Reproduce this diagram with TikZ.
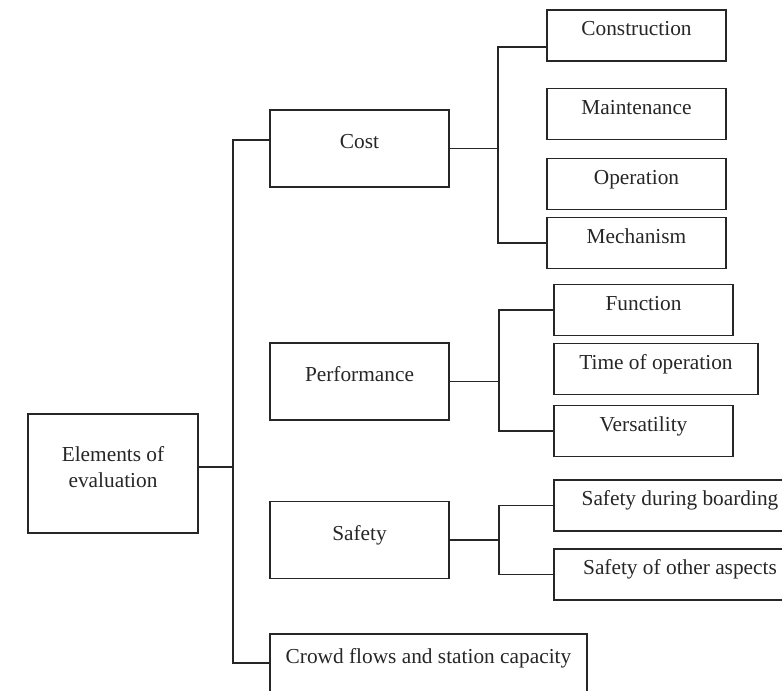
\documentclass[tikz,border=0pt]{standalone}
\usepackage{fontspec}
\setmainfont{Liberation Serif}
\usetikzlibrary{positioning}
\tikzset{
  box/.style   = {draw=black!85, text=black!85, line width=1pt, inner sep=0pt,
                  outer sep=0pt, font=\fontsize{16}{19.5}\selectfont},
  mid/.style   = {box, minimum width=134.25pt, minimum height=57.75pt,
                  text height=12pt, text depth=12pt},
  leaf/.style  = {box, minimum width=134.25pt, minimum height=38.25pt,
                  text height=12pt, text depth=12pt},
  link/.style  = {draw=black!85, line width=1pt},
}

\begin{document}
\begin{tikzpicture}[x=0.75pt, y=-0.75pt]
  \useasboundingbox (0,0) rectangle (782,690);
  \clip (0,0) rectangle (782,690);
  \node[box, align=center, minimum width=127.5pt, minimum height=89.25pt, text depth=10pt] (root) at (113,473.5) {Elements of\\evaluation};
  \node[mid] (cost) at (359.5,148.5) {Cost};
  \node[mid] (perf) at (359.5,381.5) {Performance};
  \node[mid] (safety) at (359.5,540) {Safety};
  \node[mid, minimum width=237.75pt, minimum height=43.5pt] (crowd) at (428.5,663) {Crowd flows and station capacity};
  \node[leaf] (constr) at (636.5,35.5) {Construction};
  \node[leaf] (maint) at (636.5,114) {Maintenance};
  \node[leaf] (oper) at (636.5,184) {Operation};
  \node[leaf] (mech) at (636.5,243) {Mechanism};
  \node[leaf] (func) at (643.5,310) {Function};
  \node[leaf, minimum width=153pt] (time) at (656,369) {Time of operation};
  \node[leaf] (vers) at (643.5,431) {Versatility};
  \node[leaf, minimum width=189pt] (board) at (680,505.5) {Safety during boarding};
  \node[leaf, minimum width=189pt] (other) at (680,574.5) {Safety of other aspects};
  \coordinate (trunk) at (233,0);
  \coordinate (bus1) at (498,0);
  \coordinate (bus2) at (499,0);
  \coordinate (rootout) at ([yshift=4.9pt]root.east);
  \coordinate (costin) at ([yshift=6.4pt]cost.west);
  \coordinate (constrin) at ([yshift=-8.6pt]constr.west);
  \draw[link] (rootout) -- (trunk |- rootout);
  \draw[link] (costin) -| (trunk |- crowd.west) -- (crowd.west);
  \draw[link] (cost.east) -- (bus1 |- cost.east);
  \draw[link] (constrin) -| (bus1 |- mech.west) -- (mech.west);
  \foreach \p/\a/\b in {perf/func/vers, safety/board/other}{
    \draw[link] (\p.east) -- (bus2 |- \p.east);
    \draw[link] (\a.west) -| (bus2 |- \b.west) -- (\b.west);
  }
\end{tikzpicture}
\end{document}
